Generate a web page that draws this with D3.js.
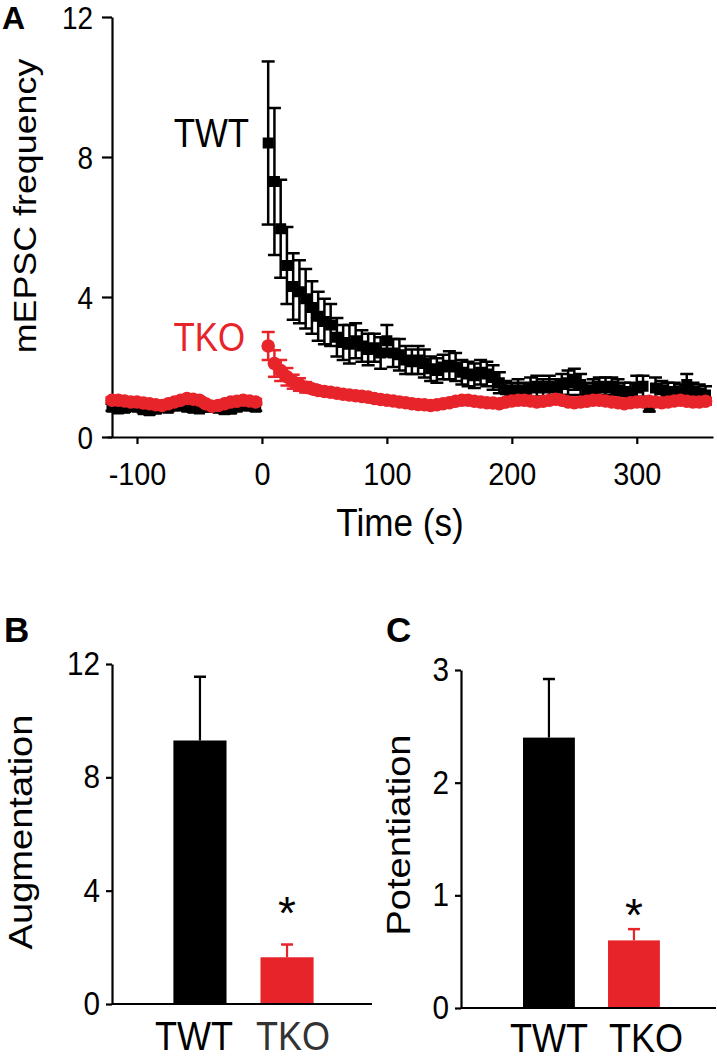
<!DOCTYPE html>
<html>
<head>
<meta charset="utf-8">
<script src="https://cdn.jsdelivr.net/npm/d3@7"></script>
<style>
  html, body { margin: 0; padding: 0; background: #fff; }
  svg { display: block; }
  text { font-family: Arial, "Liberation Sans", Helvetica, sans-serif; fill: #000; }
</style>
</head>
<body>
<svg id="chart" width="717" height="1060"></svg>
<script>
// ---------------- Panel A data ----------------
const timesPre = [-120,-115,-110,-105,-100,-95,-90,-85,-80,-75,-70,-65,-60,-55,-50,-45,-40,-35,-30,-25,-20,-15,-10,-5];
const timesPost = [5,10,15,20,25,30,35,40,45,50,55,60,65,70,75,80,85,90,95,100,
  105,110,115,120,125,130,135,140,145,150,155,160,165,170,175,180,185,190,195,200,
  205,210,215,220,225,230,235,240,245,250,255,260,265,270,275,280,285,290,295,300,
  305,310,315,320,325,330,335,340,345,350,355];

const twtPreMean = [0.85,0.80,0.82,0.88,0.85,0.78,0.75,0.80,0.85,0.82,0.88,0.90,0.85,0.82,0.80,0.85,0.88,0.82,0.78,0.80,0.85,0.90,0.88,0.85];
const twtPreSem  = [0.10,0.08,0.10,0.12,0.10,0.08,0.10,0.12,0.10,0.08,0.10,0.12,0.10,0.10,0.08,0.12,0.10,0.08,0.10,0.12,0.10,0.08,0.10,0.10];
const twtPostMean = [8.40,7.30,5.95,4.90,4.30,4.15,3.95,3.70,3.45,3.30,
  3.20,2.85,2.70,2.65,2.75,2.60,2.50,2.55,2.40,2.75,
  2.40,2.35,2.20,2.15,2.20,2.10,1.95,1.90,2.00,2.05,
  2.00,1.85,1.80,1.75,1.85,1.80,1.70,1.55,1.35,1.30,
  1.35,1.30,1.40,1.45,1.40,1.45,1.40,1.50,1.55,1.65,
  1.50,1.30,1.35,1.45,1.40,1.45,1.35,1.30,1.25,1.40,
  1.45,0.85,1.40,1.35,1.30,1.30,1.25,1.50,1.30,1.25,
  1.20];
const twtPostSem = [2.33,2.10,1.40,1.10,0.95,0.90,0.85,0.75,0.70,0.65,
  0.60,0.55,0.50,0.55,0.50,0.45,0.45,0.40,0.45,0.45,
  0.40,0.45,0.40,0.35,0.40,0.40,0.35,0.35,0.35,0.40,
  0.40,0.35,0.35,0.35,0.35,0.35,0.35,0.30,0.25,0.25,
  0.30,0.25,0.30,0.30,0.25,0.30,0.25,0.30,0.35,0.30,
  0.30,0.25,0.30,0.25,0.30,0.25,0.30,0.25,0.30,0.35,
  0.30,0.12,0.30,0.25,0.25,0.25,0.25,0.30,0.25,0.25,
  0.25];

const tkoPreMean = [1.05,1.05,1.03,1.00,1.00,0.97,0.95,0.92,0.90,0.95,1.00,1.05,1.10,1.08,1.05,0.95,0.88,0.90,0.95,1.00,1.02,1.05,1.03,1.00];
const tkoPreSem  = [0.08,0.08,0.08,0.08,0.08,0.08,0.08,0.08,0.08,0.08,0.08,0.08,0.08,0.08,0.08,0.08,0.08,0.08,0.08,0.08,0.08,0.08,0.08,0.08];
const tkoPostMean = [2.60,2.10,1.90,1.72,1.58,1.50,1.42,1.38,1.33,1.30,
  1.28,1.25,1.22,1.20,1.18,1.16,1.14,1.10,1.07,1.05,
  1.03,1.00,0.98,0.95,0.93,0.92,0.90,0.92,0.95,0.98,
  1.02,1.05,1.05,1.02,1.00,0.98,0.97,0.95,1.00,1.03,
  1.05,1.05,1.03,1.00,1.02,1.05,1.08,1.05,1.00,0.98,
  1.00,1.02,1.05,1.05,1.03,1.00,0.98,0.95,0.98,1.00,
  1.00,1.02,1.00,0.98,1.00,1.03,1.05,1.02,1.00,1.00,
  1.02];
const tkoPostSem = [0.40,0.38,0.30,0.25,0.20,0.18,0.15,0.12,0.12,0.10,
  0.10,0.10,0.10,0.10,0.10,0.10,0.10,0.10,0.10,0.10,
  0.10,0.10,0.10,0.10,0.10,0.10,0.10,0.10,0.10,0.10,
  0.10,0.10,0.10,0.10,0.10,0.10,0.10,0.10,0.10,0.10,
  0.10,0.10,0.10,0.10,0.10,0.10,0.10,0.10,0.10,0.10,
  0.10,0.10,0.10,0.10,0.10,0.10,0.10,0.10,0.10,0.10,
  0.10,0.10,0.10,0.10,0.10,0.10,0.10,0.10,0.10,0.10,
  0.10];

const xTicksA = [-100, 0, 100, 200, 300];
const yTicksA = [0, 4, 8, 12];

// ---------------- Panels B & C data ----------------
const groups = ["TWT", "TKO"];
const augMean = [9.30, 1.65];
const augSem  = [2.25, 0.45];
const potMean = [2.40, 0.60];
const potSem  = [0.52, 0.10];
const yTicksB = [0, 4, 8, 12];
const yTicksC = [0, 1, 2, 3];

const BLACK = "#000000";
const RED = "#e8242b";
const groupColors = [BLACK, RED];

const svg = d3.select("#chart");
const FONT = 'Arial, "Liberation Sans", Helvetica, sans-serif';
const SX = 0.9;   // horizontal condensation of the original lettering

// text helper: condensed text placed at (x,y)
function label(g, x, y, str, fs, opts) {
  opts = opts || {};
  const sx = opts.sx || SX;
  const rot = opts.rotate ? " rotate(-90)" : "";
  const t = g.append("text")
    .attr("transform", `translate(${x},${y})${rot} scale(${sx},1)`)
    .attr("text-anchor", opts.anchor || "start")
    .attr("font-size", fs)
    .attr("font-weight", opts.bold ? "bold" : "normal")
    .text(str);
  if (opts.fill) t.attr("fill", opts.fill).style("fill", opts.fill);
  return t;
}

function styleAxis(g, fs, side, pad, dy) {
  g.selectAll("path.domain").attr("stroke", "#000").attr("stroke-width", 2.2);
  g.selectAll(".tick line").attr("stroke", "#000").attr("stroke-width", 2.2);
  const tx = g.selectAll(".tick text").attr("font-family", FONT).attr("font-size", fs).attr("fill", "#000");
  if (side === "left") {
    tx.attr("x", -pad / SX).attr("transform", `scale(${SX},1)`);
    if (dy) tx.attr("dy", dy);
  } else {
    tx.attr("transform", `scale(${SX},1)`);
  }
}

// ================= Panel A =================
const xA = d3.scaleLinear().domain([-124, 361]).range([107, 713]);
const yA = d3.scaleLinear().domain([0, 12]).range([437, 17]);

const gA = svg.append("g");

const axYA = gA.append("g").attr("transform", "translate(112,0)")
  .call(d3.axisLeft(yA).tickValues(yTicksA).tickSize(10).tickSizeOuter(0).tickPadding(8).tickFormat(d => String(d)));
styleAxis(axYA, 31, "left", 19, "0.38em");

const axXA = gA.append("g").attr("transform", "translate(0,437)")
  .call(d3.axisBottom(xA).tickValues(xTicksA).tickSize(7).tickSizeOuter(0).tickPadding(18).tickFormat(d => String(d)));
styleAxis(axXA, 32, "bottom", 0);

function series(times, mean, sem) {
  return times.map((t, i) => ({ t: t, m: mean[i], s: sem[i] }));
}
const twtData = series(timesPre, twtPreMean, twtPreSem).concat(series(timesPost, twtPostMean, twtPostSem));
const tkoData = series(timesPre, tkoPreMean, tkoPreSem).concat(series(timesPost, tkoPostMean, tkoPostSem));

function drawErr(g, data, color, capW) {
  const eg = g.append("g").attr("stroke", color).attr("stroke-width", 2.5).attr("fill", "none");
  eg.selectAll("line.v").data(data).enter().append("line")
    .attr("x1", d => xA(d.t)).attr("x2", d => xA(d.t))
    .attr("y1", d => yA(d.m - d.s)).attr("y2", d => yA(d.m + d.s));
  eg.selectAll("line.top").data(data).enter().append("line")
    .attr("x1", d => xA(d.t) - capW / 2).attr("x2", d => xA(d.t) + capW / 2)
    .attr("y1", d => yA(d.m + d.s)).attr("y2", d => yA(d.m + d.s));
  eg.selectAll("line.bot").data(data).enter().append("line")
    .attr("x1", d => xA(d.t) - capW / 2).attr("x2", d => xA(d.t) + capW / 2)
    .attr("y1", d => yA(d.m - d.s)).attr("y2", d => yA(d.m - d.s));
}

// TWT (black squares) drawn first
drawErr(gA, twtData, BLACK, 13);
gA.append("g").selectAll("rect").data(twtData).enter().append("rect")
  .attr("x", d => xA(d.t) - 5.5).attr("y", d => yA(d.m) - 5.5)
  .attr("width", 11).attr("height", 11).attr("fill", BLACK);

// TKO (red circles) on top
drawErr(gA, tkoData, RED, 13);
gA.append("g").selectAll("circle").data(tkoData).enter().append("circle")
  .attr("cx", d => xA(d.t)).attr("cy", d => yA(d.m)).attr("r", 6.8).attr("fill", RED);

// Labels
label(gA, 2, 29, "A", 32, { bold: true, sx: 1 });
label(gA, 36, 206, "mEPSC frequency", 32, { rotate: true, anchor: "middle", sx: 1.12 });
label(gA, 400, 536, "Time (s)", 39, { anchor: "middle", sx: 0.9 });
label(gA, 249, 147, "TWT", 40, { anchor: "end", sx: 0.87 });
label(gA, 245, 351, "TKO", 40, { anchor: "end", sx: 0.87, fill: RED });

// ================= Bar panels =================
function barPanel(opts) {
  const g = svg.append("g");
  const y = d3.scaleLinear().domain(opts.ydomain).range([opts.y0, opts.y1]);
  const x = d3.scaleBand().domain(groups).range(opts.xrange).paddingInner(0.39).paddingOuter(0.24);

  // bars
  g.selectAll("rect.bar").data(groups).enter().append("rect")
    .attr("x", d => x(d)).attr("width", x.bandwidth())
    .attr("y", (d, i) => y(opts.mean[i])).attr("height", (d, i) => y(0) - y(opts.mean[i]))
    .attr("fill", (d, i) => groupColors[i]);
  // error bars (upper only)
  g.selectAll("line.ev").data(groups).enter().append("line")
    .attr("x1", d => x(d) + x.bandwidth() / 2).attr("x2", d => x(d) + x.bandwidth() / 2)
    .attr("y1", (d, i) => y(opts.mean[i])).attr("y2", (d, i) => y(opts.mean[i] + opts.sem[i]))
    .attr("stroke", (d, i) => groupColors[i]).attr("stroke-width", 2.2);
  g.selectAll("line.ec").data(groups).enter().append("line")
    .attr("x1", d => x(d) + x.bandwidth() / 2 - 6).attr("x2", d => x(d) + x.bandwidth() / 2 + 6)
    .attr("y1", (d, i) => y(opts.mean[i] + opts.sem[i])).attr("y2", (d, i) => y(opts.mean[i] + opts.sem[i]))
    .attr("stroke", (d, i) => groupColors[i]).attr("stroke-width", 2.5);

  // y axis
  const ay = g.append("g").attr("transform", `translate(${opts.xAxis},0)`)
    .call(d3.axisLeft(y).tickValues(opts.ticks).tickSize(6).tickSizeOuter(0).tickPadding(6).tickFormat(d => String(d)));
  styleAxis(ay, 33, "left", 12);
  // x axis line
  g.append("line").attr("x1", opts.xAxis).attr("x2", opts.xEnd).attr("y1", y(0)).attr("y2", y(0))
    .attr("stroke", "#000").attr("stroke-width", 2.2);

  // category labels
  groups.forEach((d, i) => {
    label(g, x(d) + x.bandwidth() / 2 + opts.labelShift[i], opts.labelY, d, 40,
      { anchor: "middle", sx: 0.9, fill: opts.labelColors[i] });
  });

  // significance star on TKO
  g.append("text").attr("x", x("TKO") + x.bandwidth() / 2).attr("y", opts.starY)
    .attr("text-anchor", "middle").attr("font-size", 46).text("*");

  // y title
  label(g, opts.titleX, opts.titleY, opts.title, 34, { rotate: true, anchor: "middle", sx: 1.12 });
  // panel letter
  label(g, opts.letterX, opts.letterY, opts.letter, 35, { bold: true, sx: 1 });
}

barPanel({
  ydomain: [0, 12], y0: 1004, y1: 664, ticks: yTicksB,
  xrange: [152.5, 334.5], xAxis: 112, xEnd: 372,
  mean: augMean, sem: augSem, labelY: 1050, labelShift: [-6, 6],
  labelColors: ["#000", "#333"], starY: 929,
  title: "Augmentation", titleX: 32, titleY: 832,
  letter: "B", letterX: 4, letterY: 642
});
barPanel({
  ydomain: [0, 3], y0: 1008, y1: 670, ticks: yTicksC,
  xrange: [502.6, 680.3], xAxis: 461, xEnd: 716,
  mean: potMean, sem: potSem, labelY: 1052, labelShift: [0, 12],
  labelColors: ["#000", "#000"], starY: 931,
  title: "Potentiation", titleX: 410, titleY: 835,
  letter: "C", letterX: 386, letterY: 642
});
</script>
</body>
</html>
